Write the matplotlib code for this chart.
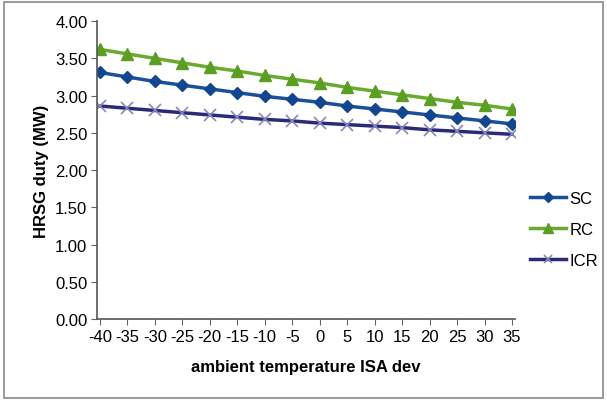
import matplotlib.pyplot as plt
from matplotlib.patches import Rectangle

# --- data
isa_dev = [-40, -35, -30, -25, -20, -15, -10, -5, 0, 5, 10, 15, 20, 25, 30, 35]
sc = [3.31, 3.25, 3.19, 3.14, 3.09, 3.04, 2.99, 2.95, 2.91, 2.86, 2.82, 2.78, 2.74, 2.70, 2.66, 2.62]
rc = [3.62, 3.56, 3.50, 3.44, 3.38, 3.33, 3.27, 3.22, 3.17, 3.11, 3.06, 3.01, 2.96, 2.91, 2.87, 2.82]
icr = [2.86, 2.83, 2.80, 2.77, 2.74, 2.71, 2.68, 2.66, 2.63, 2.61, 2.59, 2.57, 2.54, 2.52, 2.50, 2.48]
y_ticks = [0.0, 0.5, 1.0, 1.5, 2.0, 2.5, 3.0, 3.5, 4.0]

plt.rcParams['font.family'] = ['Liberation Sans Narrow', 'Liberation Sans', 'DejaVu Sans']

fig = plt.figure(figsize=(6.07, 4.02), dpi=100)
ax = fig.add_axes([0.160, 0.204, 0.688, 0.741])

# chart frame
fig.patches.append(Rectangle((0.006, 0.008), 0.988, 0.984, transform=fig.transFigure,
                             fill=False, edgecolor='#8a8a8a', linewidth=1.2))

x = list(range(len(isa_dev)))
ax.plot(x, sc, color='#1a4f99', lw=2.5, marker='D', ms=6.5, mfc='#12478f', mec='#12478f', label='SC')
ax.plot(x, rc, color='#6aaa2e', lw=2.5, marker='^', ms=8.5, mfc='#5a9e24', mec='#5a9e24', label='RC')
ax.plot(x, icr, color='#2c2a78', lw=2.5, marker='x', ms=8, mew=1.2, mec='#8a87b8', label='ICR')

ax.set_xlim(-0.1, len(x) - 0.9)
ax.set_ylim(0, 4)
ax.set_xticks(x)
ax.set_xticklabels([str(v) for v in isa_dev], fontsize=12)
ax.set_yticks(y_ticks)
ax.set_yticklabels([f'{v:.2f}' for v in y_ticks], fontsize=12)
ax.tick_params(axis='both', direction='out', length=4, color='#666666', pad=3)

for s in ['top', 'right']:
    ax.spines[s].set_visible(False)
for s in ['left', 'bottom']:
    ax.spines[s].set_color('#555555')
    ax.spines[s].set_linewidth(1.2)

ax.set_xlabel('ambient temperature ISA dev', fontsize=12, fontweight='bold', labelpad=11)
ax.set_ylabel('HRSG duty (MW)', fontsize=12, fontweight='bold', labelpad=4)

ax.legend(loc='center left', bbox_to_anchor=(1.0, 0.30), frameon=False, fontsize=12,
          handlelength=2.2, handletextpad=0.2, labelspacing=0.95, markerscale=0.8)

fig.savefig('out.png', dpi=100)
